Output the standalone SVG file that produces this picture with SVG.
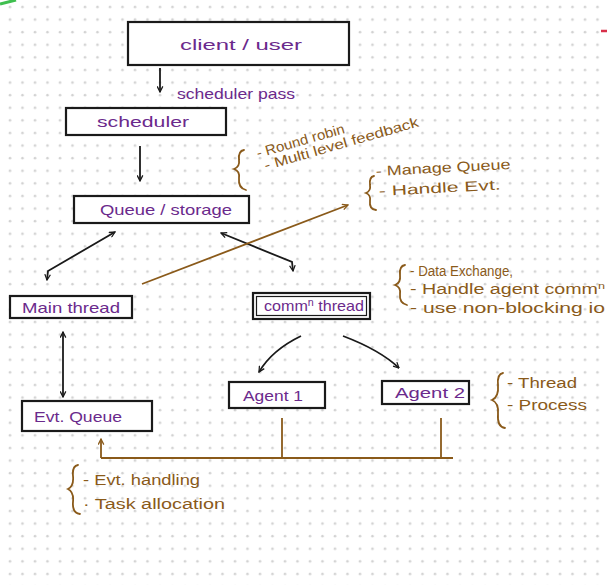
<svg xmlns="http://www.w3.org/2000/svg" width="607" height="585" viewBox="0 0 607 585">
<defs>
<pattern id="dots" x="4" y="1" width="12.5" height="12.6" patternUnits="userSpaceOnUse">
<circle cx="6" cy="6" r="1.3" fill="#d2d2d2"/>
</pattern>
<marker id="ah" viewBox="0 0 10 10" refX="9" refY="5" markerWidth="7" markerHeight="7" orient="auto-start-reverse" markerUnits="userSpaceOnUse">
<path d="M1,1 L9,5 L1,9" fill="none" stroke="#1a1a1a" stroke-width="1.8"/>
</marker>
<marker id="ahb" viewBox="0 0 10 10" refX="9" refY="5" markerWidth="7" markerHeight="7" orient="auto-start-reverse" markerUnits="userSpaceOnUse">
<path d="M1,1 L9,5 L1,9" fill="none" stroke="#8a5a1a" stroke-width="1.8"/>
</marker>
<style>
.box{fill:#fff;stroke:#1a1a1a;stroke-width:2.2}
.lbl{font-family:"Liberation Sans",Arial,sans-serif;font-size:15px;fill:#6b2a8c}
.note{font-family:"Liberation Sans",Arial,sans-serif;font-size:14px;fill:#8a5a1a}
.con{fill:none;stroke:#1a1a1a;stroke-width:1.8}
.bcon{fill:none;stroke:#8a5a1a;stroke-width:1.8}
.brace{fill:none;stroke:#8a5a1a;stroke-width:1.8;stroke-linecap:round}
</style>
</defs>
<rect width="607" height="585" fill="#fff"/>
<rect width="607" height="585" fill="url(#dots)"/>
<path d="M0,4 Q8,2 16,0" stroke="#3fbf4f" stroke-width="3" fill="none"/>
<path d="M601,31 L607,31" stroke="#d8304a" stroke-width="2.5"/>

<g id="client">
<rect class="box" x="128" y="22" width="221" height="43"/>
<text class="lbl" x="180" y="50" font-size="17" textLength="122" lengthAdjust="spacingAndGlyphs">client / user</text>
</g>
<g id="scheduler">
<rect class="box" x="66" y="108" width="160" height="27"/>
<text class="lbl" x="97" y="127" textLength="92" lengthAdjust="spacingAndGlyphs">scheduler</text>
</g>
<g id="queue">
<rect class="box" x="74" y="196" width="175" height="27"/>
<text class="lbl" x="100" y="215" textLength="132" lengthAdjust="spacingAndGlyphs">Queue / storage</text>
</g>
<g id="main">
<rect class="box" x="10" y="296" width="122" height="22"/>
<text class="lbl" x="22" y="313" textLength="98" lengthAdjust="spacingAndGlyphs">Main thread</text>
</g>
<g id="comm">
<rect class="box" x="253" y="293" width="117" height="26" stroke-width="2.6"/>
<rect x="256.5" y="296.5" width="110" height="19" fill="none" stroke="#1a1a1a" stroke-width="1.2"/>
<text class="lbl" x="264" y="311" textLength="100" lengthAdjust="spacingAndGlyphs">comm<tspan font-size="10" dy="-5">n</tspan><tspan dy="5"> thread</tspan></text>
</g>
<g id="agent1">
<rect class="box" x="229" y="382" width="96" height="26"/>
<text class="lbl" x="243" y="401" textLength="60" lengthAdjust="spacingAndGlyphs">Agent 1</text>
</g>
<g id="agent2">
<rect class="box" x="382" y="381" width="87" height="23"/>
<text class="lbl" x="395" y="398" textLength="70" lengthAdjust="spacingAndGlyphs">Agent 2</text>
</g>
<g id="evtqueue">
<rect class="box" x="22" y="401" width="130" height="30"/>
<text class="lbl" x="34" y="422" textLength="88" lengthAdjust="spacingAndGlyphs">Evt. Queue</text>
</g>

<g id="connectors">
<path class="con" d="M160,68 L160,92" marker-end="url(#ah)"/>
<path class="con" d="M140,146 L140,181" marker-end="url(#ah)"/>
<path class="con" d="M115,232 L48,271 L47,280" marker-start="url(#ah)" marker-end="url(#ah)"/>
<path class="con" d="M221,233 L292,262 L293,271" marker-start="url(#ah)" marker-end="url(#ah)"/>
<path class="bcon" d="M142,284 L348,205" marker-end="url(#ahb)"/>
<path class="con" d="M63,332 L63,397" marker-start="url(#ah)" marker-end="url(#ah)"/>
<path class="con" d="M301,336 Q272,350 259,372" marker-end="url(#ah)"/>
<path class="con" d="M343,336 Q380,350 399,368" marker-end="url(#ah)"/>
<path class="bcon" d="M282,418 L282,458"/>
<path class="bcon" d="M441,418 L441,458"/>
<path class="bcon" d="M101,458 L453,458"/>
<path class="bcon" d="M101,458 L101,439" marker-end="url(#ahb)"/>
</g>

<g id="notes">
<text class="lbl" x="177" y="99" font-size="14" textLength="118" lengthAdjust="spacingAndGlyphs">scheduler pass</text>
<path class="brace" d="M244,150 Q238,151 239,160 Q240,167 234,169 Q240,171 239,178 Q238,188 246,190"/>
<g transform="rotate(-16 258 158)">
<text class="note" x="258" y="158" textLength="91" lengthAdjust="spacingAndGlyphs">- Round robin</text>
<text class="note" x="262" y="172" textLength="160" lengthAdjust="spacingAndGlyphs">- Multi level feedback</text>
</g>
<path class="brace" d="M374,176 Q369,177 370,185 Q371,191 366,193 Q371,195 370,201 Q369,209 376,210"/>
<g transform="rotate(-3 376 176)">
<text class="note" x="376" y="176" textLength="135" lengthAdjust="spacingAndGlyphs">- Manage Queue</text>
<text class="note" x="378" y="196" textLength="122" lengthAdjust="spacingAndGlyphs">- Handle Evt.</text>
</g>
<path class="brace" d="M405,265 Q399,266 400,275 Q401,283 395,285 Q401,287 400,294 Q399,303 407,305"/>
<text class="note" x="410" y="276" textLength="103" lengthAdjust="spacingAndGlyphs">- Data Exchange,</text>
<text class="note" x="410" y="294" textLength="195" lengthAdjust="spacingAndGlyphs">- Handle agent comm<tspan font-size="9" dy="-5">n</tspan></text>
<text class="note" x="410" y="313" textLength="195" lengthAdjust="spacingAndGlyphs">- use non-blocking io</text>
<path class="brace" d="M503,373 Q497,374 498,385 Q499,397 492,400 Q499,403 498,414 Q497,427 505,428"/>
<text class="note" x="507" y="388" textLength="70" lengthAdjust="spacingAndGlyphs">- Thread</text>
<text class="note" x="507" y="410" textLength="80" lengthAdjust="spacingAndGlyphs">- Process</text>
<path class="brace" d="M78,465 Q72,466 73,476 Q74,486 68,489 Q74,492 73,502 Q72,513 80,514"/>
<text class="note" x="83" y="485" textLength="117" lengthAdjust="spacingAndGlyphs">- Evt. handling</text>
<text class="note" x="83" y="509" textLength="142" lengthAdjust="spacingAndGlyphs">· Task allocation</text>
</g>
</svg>
